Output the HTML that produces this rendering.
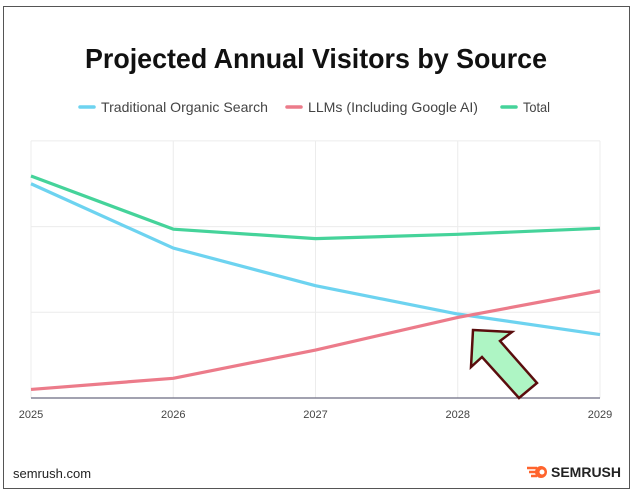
<!DOCTYPE html>
<html><head><meta charset="utf-8"><style>
html,body{margin:0;padding:0;background:#fff;width:642px;height:497px;overflow:hidden;font-family:"Liberation Sans",sans-serif}
#frame{position:absolute;left:3px;top:6px;width:627px;height:483px;border:1px solid #555;box-sizing:border-box}
</style></head><body>
<div id="frame"></div>
<svg width="642" height="497" style="position:absolute;left:0;top:0">
<text x="316" y="68" text-anchor="middle" font-size="28" font-weight="bold" fill="#111" textLength="462" lengthAdjust="spacingAndGlyphs">Projected Annual Visitors by Source</text>
<g id="legend" font-size="14" fill="#444"></g>
<g id="grid"></g><g id="lines"></g><g id="xlabels" font-size="11" fill="#444"></g>
<polygon points="473,330 512,332 500,341 537,383 519,398 482,357 471,367" fill="#aef5c4" stroke="#5a0d0d" stroke-width="2.5" stroke-linejoin="miter"/>
<text x="13" y="478" font-size="13" fill="#222">semrush.com</text>
<g>
<path d="M527,468 l10,0 M529,472 l8,0 M531,476 l6,0" stroke="#ff642d" stroke-width="2.5"/>
<circle cx="541" cy="472" r="6" fill="#ff642d"/><circle cx="542" cy="472" r="2.5" fill="#fff"/>
<text x="551" y="477" font-size="14" font-weight="bold" fill="#222">SEMRUSH</text></g>
</svg>
<script>
const years=["2025","2026","2027","2028","2029"];
const organic=[2.50,1.75,1.31,0.98,0.74];
const llm=[0.10,0.23,0.56,0.94,1.25];
const total=[2.59,1.97,1.86,1.91,1.98];
const yTicks=[0,1,2,3];
const NS="http://www.w3.org/2000/svg";
const x=i=>31+i*(569/(years.length-1));
const y=v=>398-v*85.7;
function mk(t,a,p){const e=document.createElementNS(NS,t);for(const k in a)e.setAttribute(k,a[k]);p.appendChild(e);return e;}
const grid=document.getElementById('grid');
yTicks.forEach(v=>{if(v===0)return;const l=mk('line',{x1:x(0),x2:600,y1:y(v),y2:y(v),stroke:'#ececec','stroke-width':1},grid);

});
years.forEach((t,i)=>{const l=mk('line',{x1:x(i),x2:x(i),y1:y(3),y2:y(0),stroke:'#ececec','stroke-width':1},grid);


const tx=mk('text',{x:x(i),y:418,'text-anchor':'middle'},document.getElementById('xlabels'));tx.textContent=t;

});
const ax=mk('line',{x1:x(0),x2:600,y1:y(0),y2:y(0),stroke:'#6b6b80','stroke-width':1.2},grid);


const series=[["organic-line",organic,"#6dd3f0"],["llm-line",llm,"#ec7b8a"],["total-line",total,"#45d39a"]];
series.forEach(s=>{const p=mk('polyline',{points:s[1].map((v,i)=>x(i)+','+y(v)).join(' '),fill:'none',stroke:s[2],'stroke-width':3.2,'stroke-linejoin':'round'},document.getElementById('lines'));

});
const leg=document.getElementById('legend');
const items=[["Traditional Organic Search","#6dd3f0",80,268],["LLMs (Including Google AI)","#ec7b8a",287,478],["Total","#45d39a",502,550]];
items.forEach(it=>{const g=mk('g',{},leg);


mk('line',{x1:it[2],x2:it[2]+14,y1:107,y2:107,stroke:it[1],'stroke-width':3.5,'stroke-linecap':'round'},g);
const t=mk('text',{x:it[2]+21,y:112,textLength:it[3]-it[2]-21,lengthAdjust:'spacingAndGlyphs'},g);t.textContent=it[0];});
</script>
</body></html>
